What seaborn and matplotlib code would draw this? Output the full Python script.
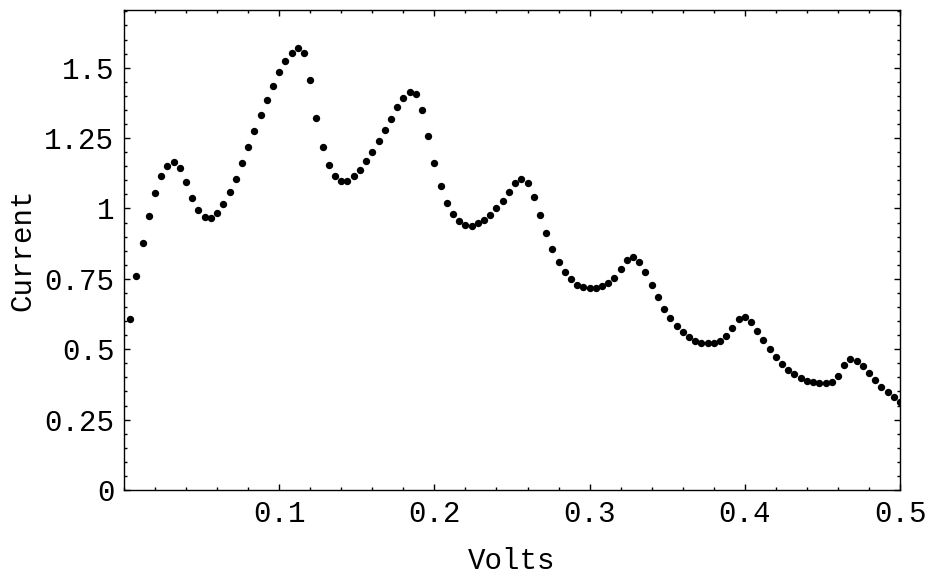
import numpy as np
import pandas as pd
import matplotlib
matplotlib.use("Agg")
import matplotlib.pyplot as plt
import seaborn as sns
from matplotlib.ticker import MultipleLocator, FixedLocator, FuncFormatter

# voltage grid: 125 evenly spaced samples, 0.004 .. 0.5
volts = np.round(np.arange(1, 126) * 0.004, 3)

# current values, one per voltage sample
current = [
    0.607, 0.760, 0.878, 0.975, 1.054, 1.114, 1.152, 1.164, 1.143, 1.095,
    1.038, 0.993, 0.969, 0.967, 0.985, 1.016, 1.057, 1.106, 1.160, 1.217,
    1.274, 1.331, 1.385, 1.436, 1.483, 1.523, 1.554, 1.571, 1.554, 1.458,
    1.323, 1.220, 1.153, 1.115, 1.098, 1.098, 1.114, 1.136, 1.167, 1.201,
    1.239, 1.279, 1.319, 1.359, 1.393, 1.415, 1.406, 1.351, 1.256, 1.160,
    1.081, 1.020, 0.980, 0.955, 0.941, 0.939, 0.947, 0.959, 0.978, 1.000,
    1.027, 1.059, 1.090, 1.106, 1.089, 1.042, 0.977, 0.913, 0.856, 0.809,
    0.773, 0.748, 0.729, 0.720, 0.716, 0.718, 0.723, 0.735, 0.754, 0.784,
    0.816, 0.827, 0.811, 0.773, 0.728, 0.685, 0.643, 0.610, 0.581, 0.560,
    0.542, 0.529, 0.523, 0.522, 0.523, 0.529, 0.546, 0.576, 0.608, 0.615,
    0.597, 0.566, 0.533, 0.501, 0.473, 0.449, 0.427, 0.411, 0.398, 0.388,
    0.382, 0.379, 0.379, 0.385, 0.405, 0.443, 0.465, 0.459, 0.440, 0.414,
    0.390, 0.367, 0.347, 0.329, 0.314,
]

x_ticks = [0.1, 0.2, 0.3, 0.4, 0.5]
y_ticks = [0, 0.25, 0.5, 0.75, 1, 1.25, 1.5]

df = pd.DataFrame({"Volts": volts, "Current": current})

sns.set_style("ticks")
plt.rcParams["font.family"] = ["Liberation Mono", "DejaVu Sans Mono"]
plt.rcParams["text.color"] = "black"
plt.rcParams["axes.labelcolor"] = "black"

fig = plt.figure(figsize=(9.31, 5.78), dpi=100)
ax = fig.add_axes([124 / 931, 1 - 490 / 578, 776 / 931, 480 / 578])

sns.scatterplot(data=df, x="Volts", y="Current", ax=ax,
                color="black", s=28, linewidth=0, clip_on=True)

ax.set_xlim(0, 0.5)
ax.set_ylim(0, 1.705)

ax.xaxis.set_major_locator(FixedLocator(x_ticks))
ax.yaxis.set_major_locator(FixedLocator(y_ticks))
ax.xaxis.set_minor_locator(MultipleLocator(0.02))
ax.yaxis.set_minor_locator(MultipleLocator(0.05))
ax.yaxis.set_major_formatter(FuncFormatter(lambda v, p: "%g" % v))
ax.xaxis.set_major_formatter(FuncFormatter(lambda v, p: "%g" % v))

ax.tick_params(which="both", direction="in", top=True, right=True,
               labelsize=21, width=1.0, colors="black")
ax.tick_params(which="major", length=4, pad=7)
ax.tick_params(which="minor", length=2.2)

for sp in ax.spines.values():
    sp.set_visible(True)
    sp.set_linewidth(1.0)
    sp.set_color("black")

ax.set_xlabel("Volts", fontsize=21, labelpad=14, color="black")
ax.set_ylabel("Current", fontsize=21, labelpad=6, color="black")

fig.savefig("out.png", dpi=100)
